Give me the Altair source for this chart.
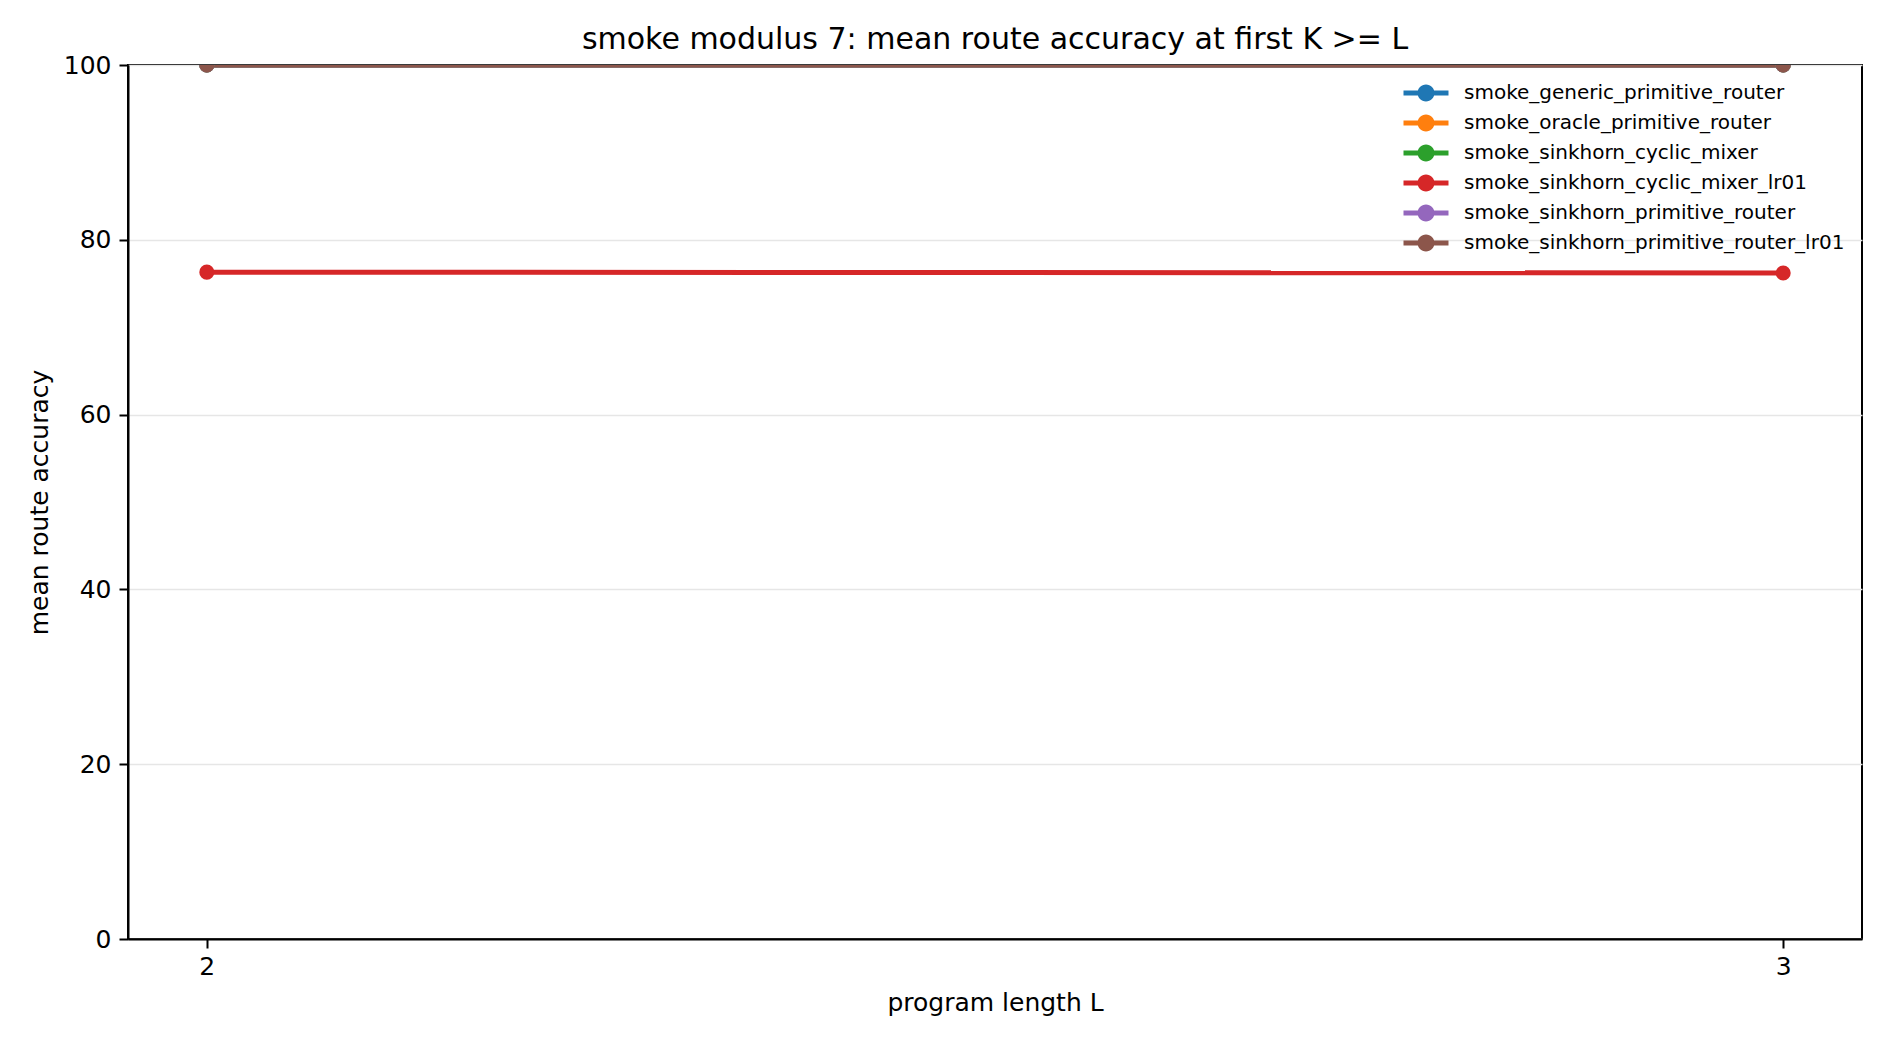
import altair as alt
import pandas as pd

program_lengths = [2, 3]
series_names = [
    "smoke_generic_primitive_router",
    "smoke_oracle_primitive_router",
    "smoke_sinkhorn_cyclic_mixer",
    "smoke_sinkhorn_cyclic_mixer_lr01",
    "smoke_sinkhorn_primitive_router",
    "smoke_sinkhorn_primitive_router_lr01",
]
generic_primitive_router = [100.0, 100.0]
oracle_primitive_router = [100.0, 100.0]
sinkhorn_cyclic_mixer = [100.0, 100.0]
sinkhorn_cyclic_mixer_lr01 = [76.3, 76.2]
sinkhorn_primitive_router = [100.0, 100.0]
sinkhorn_primitive_router_lr01 = [100.0, 100.0]
colors = ["#1f77b4", "#ff7f0e", "#2ca02c", "#d62728", "#9467bd", "#8c564b"]

series_values = [
    generic_primitive_router,
    oracle_primitive_router,
    sinkhorn_cyclic_mixer,
    sinkhorn_cyclic_mixer_lr01,
    sinkhorn_primitive_router,
    sinkhorn_primitive_router_lr01,
]

rows = []
for order, (name, vals) in enumerate(zip(series_names, series_values)):
    for L, v in zip(program_lengths, vals):
        rows.append({"series": name, "L": L, "acc": v, "order": order})
df = pd.DataFrame(rows)

FONT = "DejaVu Sans"
# unit = 8.5 px (circle radius); line spans 45 px, 5 px thick
legend_symbol = (
    "M-2.647,-0.294 H2.647 V0.294 H-2.647 Z "
    "M-1,0 A1,1 0 1,1 1,0 A1,1 0 1,1 -1,0 Z"
)

color_enc = alt.Color(
    "series:N",
    scale=alt.Scale(domain=series_names, range=colors),
    sort=series_names,
    legend=alt.Legend(
        title=None,
        orient="none",
        legendX=1288,
        legendY=18,
        padding=0,
        symbolType=legend_symbol,
        symbolSize=289,
        symbolStrokeWidth=0,
        symbolOpacity=1,
        labelFont=FONT,
        labelFontSize=20,
        labelColor="black",
        labelLimit=600,
        labelOffset=28,
        rowPadding=10,
    ),
)

x_enc = alt.X(
    "L:Q",
    scale=alt.Scale(domain=[1.95, 3.05], nice=False, zero=False),
    axis=alt.Axis(
        title="program length L",
        values=program_lengths,
        format="d",
        grid=False,
        titleY=71,
        titleBaseline="alphabetic",
        labelBaseline="alphabetic",
        labelPadding=26,
    ),
)
y_enc = alt.Y(
    "acc:Q",
    scale=alt.Scale(domain=[0, 100], nice=False),
    axis=alt.Axis(
        title="mean route accuracy",
        values=[0, 20, 40, 60, 80, 100],
        grid=True,
        titleX=-81,
        titleBaseline="alphabetic",
        titleAngle=-90,
        labelPadding=8,
    ),
)

chart = (
    alt.Chart(df)
    .mark_line(
        strokeWidth=5,
        clip=True,
        point=alt.OverlayMarkDef(filled=True, size=227, opacity=1, clip=True),
    )
    .encode(
        x=x_enc,
        y=y_enc,
        color=color_enc,
        order=alt.Order("order:Q"),
        detail="series:N",
    )
    .properties(
        width=1734,
        height=874,
        title=alt.TitleParams(
            "smoke modulus 7: mean route accuracy at first K >= L",
            font=FONT,
            fontSize=30,
            fontWeight="normal",
            color="black",
            anchor="middle",
            baseline="alphabetic",
            offset=14,
            dy=40,
        ),
        autosize=alt.AutoSizeParams(type="none"),
        padding={"left": 120, "top": 57, "right": 20, "bottom": 90},
    )
    .configure(background="white")
    .configure_view(stroke="black", strokeWidth=2)
    .configure_axis(
        labelFont=FONT,
        labelFontSize=25,
        labelColor="black",
        titleFont=FONT,
        titleFontSize=25,
        titleFontWeight="normal",
        titleColor="black",
        domainColor="black",
        domainWidth=2,
        tickColor="black",
        tickWidth=2,
        tickSize=9,
        gridColor="#e6e6e6",
        gridWidth=1.5,
        labelFlush=False,
    )
)

chart.save("out.html", embed_options={"renderer": "svg", "actions": False})
